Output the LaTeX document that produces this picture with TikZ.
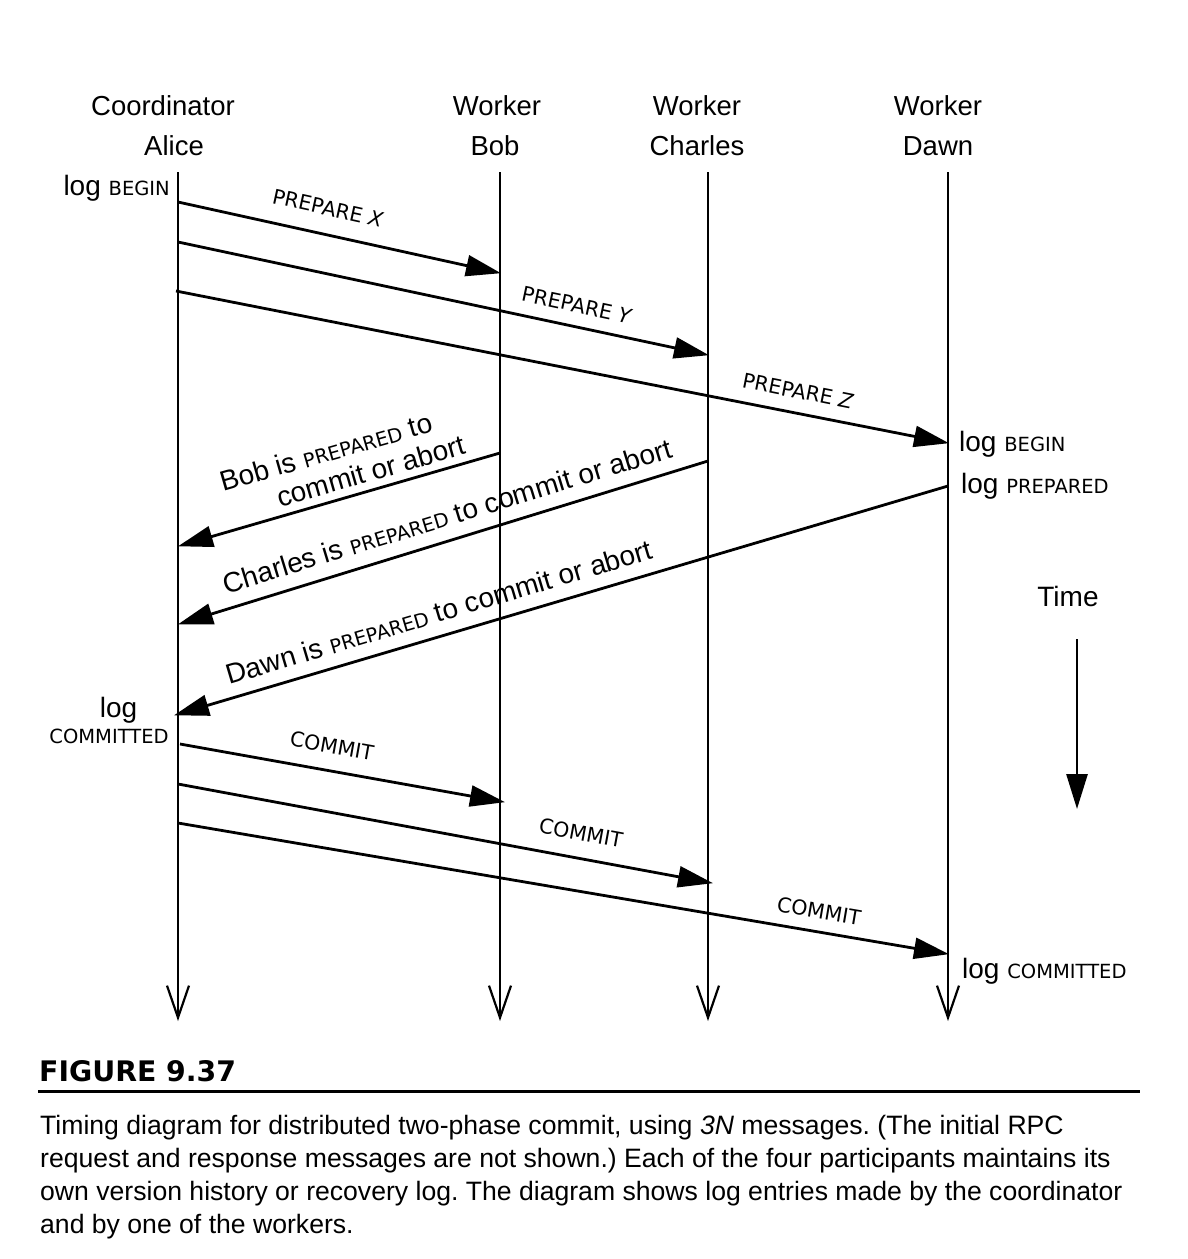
\documentclass[tikz,border=0pt]{standalone}
\usepackage{fontspec}
\setmainfont{Liberation Sans}
\newfontfamily\vfont{DejaVu Sans}
\usetikzlibrary{arrows.meta}
\newcommand{\smc}[1]{{\vfont\fontsize{19.5}{21}\selectfont #1}}
\newcommand{\msgfont}{\vfont\fontsize{20.5}{22}\selectfont}
\tikzset{
  lifeline/.style={line width=2.8pt,-{Straight Barb[length=32pt,width=22pt,line width=2.2pt]}},
  msg/.style={line width=2.8pt,-{Triangle[length=35pt,width=21pt]},shorten >=-1pt},
  hdr/.style={inner sep=0pt,font=\fontsize{27.5}{30}\selectfont},
  lbl/.style={inner sep=0pt,font=\fontsize{28}{30}\selectfont},
  mlbl/.style={inner sep=0pt,font=\msgfont},
  captext/.style={inner sep=0pt,anchor=base west,font=\frenchspacing\fontsize{26.6}{33}\selectfont}
}
\begin{document}
\begin{tikzpicture}[x=1pt,y=-1pt]
\useasboundingbox[fill=white] (0,0) rectangle (1188,1259);
% headers
\node[hdr,anchor=base] (h1) at (163,115) {Coordinator};
\node[hdr,anchor=base] (h2) at (174,155) {Alice};
\node[hdr,anchor=base] (h3) at (497,115) {Worker};
\node[hdr,anchor=base] (h4) at (495,155) {Bob};
\node[hdr,anchor=base] (h5) at (697,115) {Worker};
\node[hdr,anchor=base] (h6) at (697,155) {Charles};
\node[hdr,anchor=base] (h7) at (938,115) {Worker};
\node[hdr,anchor=base] (h8) at (938,155) {Dawn};
% lifelines
\coordinate (At) at (178,172); \coordinate (Ab) at (178,1021);
\coordinate (Bt) at (500,172); \coordinate (Bb) at (500,1021);
\coordinate (Ct) at (708,172); \coordinate (Cb) at (708,1021);
\coordinate (Dt) at (948,172); \coordinate (Db) at (948,1021);
\draw[lifeline] (At) -- (Ab);
\draw[lifeline] (Bt) -- (Bb);
\draw[lifeline] (Ct) -- (Cb);
\draw[lifeline] (Dt) -- (Db);
% event points
\coordinate (A1) at (178,202); \coordinate (B1) at (500,273);
\coordinate (A2) at (178,242); \coordinate (C1) at (708,355);
\coordinate (A3) at (176,291); \coordinate (D1) at (948,443);
\coordinate (B2) at (500,453); \coordinate (A4) at (179,546);
\coordinate (C2) at (708,461); \coordinate (A5) at (179,624);
\coordinate (D2) at (948,486); \coordinate (A6) at (175,715);
\coordinate (A7) at (180,744); \coordinate (B3) at (504,802);
\coordinate (A8) at (178,784); \coordinate (C3) at (712,883);
\coordinate (A9) at (178,823); \coordinate (D3) at (948,954);
% messages
\draw[msg] (A1) -- (B1);
\draw[msg] (A2) -- (C1);
\draw[msg] (A3) -- (D1);
\draw[msg] (B2) -- (A4);
\draw[msg] (C2) -- (A5);
\draw[msg] (D2) -- (A6);
\draw[msg] (A7) -- (B3);
\draw[msg] (A8) -- (C3);
\draw[msg] (A9) -- (D3);
% message labels
\node[mlbl,rotate=-12.4] (m1) at (328,208) {PREPARE \textit{X}};
\node[mlbl,rotate=-12] (m2) at (577,305) {PREPARE \textit{Y}};
\node[mlbl,rotate=-11.2] (m3) at (798,391) {PREPARE \textit{Z}};
\node[lbl,rotate=16] (m4a) at (326,452) {Bob is \smc{PREPARED} to};
\node[lbl,rotate=16] (m4b) at (371,471) {commit or abort};
\node[lbl,rotate=17] (m5) at (447,516) {Charles is \smc{PREPARED} to commit or abort};
\node[lbl,rotate=16.6] (m6) at (439,612) {Dawn is \smc{PREPARED} to commit or abort};
\node[mlbl,rotate=-10.1] (m7) at (332,746) {COMMIT};
\node[mlbl,rotate=-10.5] (m8) at (581,833) {COMMIT};
\node[mlbl,rotate=-9.7] (m9) at (819,911) {COMMIT};
% log labels
\node[lbl,anchor=base east] (l1) at (170,195) {log \smc{BEGIN}};
\node[lbl,anchor=base west] (l2) at (959,451) {log \smc{BEGIN}};
\node[lbl,anchor=base west] (l3) at (961,493) {log \smc{PREPARED}};
\node[lbl,anchor=base] (l4) at (118.5,717) {log};
\node[inner sep=0pt,anchor=base] (l5) at (109,743) {\smc{COMMITTED}};
\node[lbl,anchor=base west] (l6) at (962,978) {log \smc{COMMITTED}};
% time
\node[lbl,anchor=base] (tm) at (1068,606) {Time};
\coordinate (T1) at (1077,639); \coordinate (T2) at (1077,808);
\draw[msg] (T1) -- (T2);
% caption
\node[inner sep=0pt,anchor=base west,font={\vfont\bfseries\fontsize{28.3}{30}\selectfont}] (fig) at (39,1081) {FIGURE 9.37};
\coordinate (R1) at (38,1091.5); \coordinate (R2) at (1140,1091.5);
\draw[line width=3.5pt] (R1) -- (R2);
\node[captext] (c1) at (40,1134) {Timing diagram for distributed two-phase commit, using \textit{3N} messages. (The initial RPC};
\node[captext] (c2) at (40,1167) {request and response messages are not shown.) Each of the four participants maintains its};
\node[captext] (c3) at (40,1200) {own version history or recovery log. The diagram shows log entries made by the coordinator};
\node[captext] (c4) at (40,1233) {and by one of the workers.};
\end{tikzpicture}
\end{document}
